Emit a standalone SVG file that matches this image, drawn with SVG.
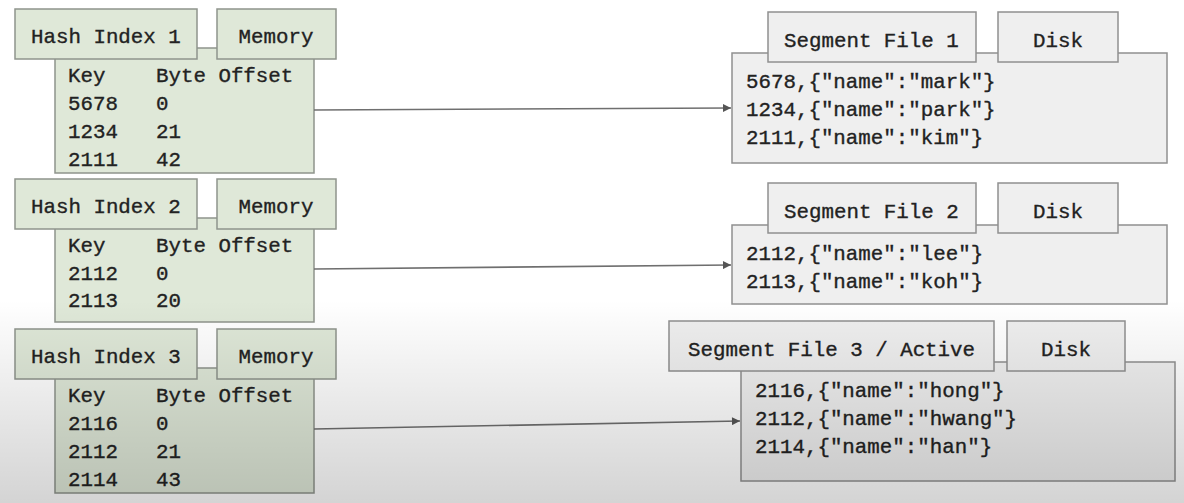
<svg xmlns="http://www.w3.org/2000/svg" width="1184" height="503" viewBox="0 0 1184 503">
<defs>
<style>
.g{fill:#dfe8d8;stroke:#8f948c;stroke-width:1.5}
.s{fill:#efefef;stroke:#909090;stroke-width:1.5}
text{font-family:"Liberation Mono","DejaVu Sans Mono",monospace;font-size:20.8px;fill:#222;stroke:#222;stroke-width:0.35}
.c{text-anchor:middle}
.conn{stroke:#6f6f6f;stroke-width:1.6;fill:none}
</style>
<marker id="ah" viewBox="0 0 10 10" refX="10" refY="5" markerWidth="10" markerHeight="8" markerUnits="userSpaceOnUse" orient="auto">
<path d="M0,0 L10,5 L0,10 z" fill="#555"/>
</marker>
<linearGradient id="shade" x1="0" y1="0" x2="0" y2="1">
<stop offset="0" stop-color="#000" stop-opacity="0"/>
<stop offset="1" stop-color="#000" stop-opacity="0.17"/>
</linearGradient>
</defs>
<rect width="1184" height="503" fill="#ffffff"/>

<g id="hash1">
<rect class="g" x="55" y="48" width="259" height="125"/>
<rect class="g" x="15" y="9" width="182" height="50"/>
<rect class="g" x="217" y="9" width="119" height="50"/>
<text x="31" y="43">Hash Index 1</text>
<text class="c" x="276" y="43">Memory</text>
<text x="68" y="82">Key</text><text x="156" y="82">Byte Offset</text>
<text x="68" y="110">5678</text><text x="156" y="110">0</text>
<text x="68" y="138">1234</text><text x="156" y="138">21</text>
<text x="68" y="166">2111</text><text x="156" y="166">42</text>
</g>

<g id="hash2">
<rect class="g" x="55" y="218" width="259" height="104"/>
<rect class="g" x="15" y="179" width="182" height="50"/>
<rect class="g" x="217" y="179" width="119" height="50"/>
<text x="31" y="213">Hash Index 2</text>
<text class="c" x="276" y="213">Memory</text>
<text x="68" y="252">Key</text><text x="156" y="252">Byte Offset</text>
<text x="68" y="280">2112</text><text x="156" y="280">0</text>
<text x="68" y="307">2113</text><text x="156" y="307">20</text>
</g>

<g id="hash3">
<rect class="g" x="55" y="368" width="259" height="125"/>
<rect class="g" x="15" y="329" width="182" height="50"/>
<rect class="g" x="217" y="329" width="119" height="50"/>
<text x="31" y="363">Hash Index 3</text>
<text class="c" x="276" y="363">Memory</text>
<text x="68" y="402">Key</text><text x="156" y="402">Byte Offset</text>
<text x="68" y="430">2116</text><text x="156" y="430">0</text>
<text x="68" y="458">2112</text><text x="156" y="458">21</text>
<text x="68" y="486">2114</text><text x="156" y="486">43</text>
</g>

<g id="seg1">
<rect class="s" x="732" y="53" width="435" height="110"/>
<rect class="s" x="768" y="12" width="208" height="50"/>
<rect class="s" x="998" y="12" width="120" height="50"/>
<text x="784" y="47">Segment File 1</text>
<text class="c" x="1058" y="47">Disk</text>
<text x="746" y="88">5678,{"name":"mark"}</text>
<text x="746" y="116">1234,{"name":"park"}</text>
<text x="746" y="144">2111,{"name":"kim"}</text>
</g>

<g id="seg2">
<rect class="s" x="732" y="225" width="435" height="79"/>
<rect class="s" x="768" y="183" width="208" height="50"/>
<rect class="s" x="998" y="183" width="120" height="50"/>
<text x="784" y="218">Segment File 2</text>
<text class="c" x="1058" y="218">Disk</text>
<text x="746" y="260">2112,{"name":"lee"}</text>
<text x="746" y="288">2113,{"name":"koh"}</text>
</g>

<g id="seg3">
<rect class="s" x="741" y="362" width="434" height="119"/>
<rect class="s" x="669" y="321" width="325" height="50"/>
<rect class="s" x="1007" y="321" width="118" height="50"/>
<text x="688" y="356">Segment File 3 / Active</text>
<text class="c" x="1066" y="356">Disk</text>
<text x="755" y="397">2116,{"name":"hong"}</text>
<text x="755" y="425">2112,{"name":"hwang"}</text>
<text x="755" y="453">2114,{"name":"han"}</text>
</g>

<g id="connectors">
<line class="conn" x1="314" y1="110" x2="731" y2="108" marker-end="url(#ah)"/>
<line class="conn" x1="314" y1="269" x2="731" y2="265" marker-end="url(#ah)"/>
<line class="conn" x1="314" y1="429" x2="740" y2="421" marker-end="url(#ah)"/>
</g>

<rect x="0" y="300" width="1184" height="203" fill="url(#shade)"/>
</svg>
